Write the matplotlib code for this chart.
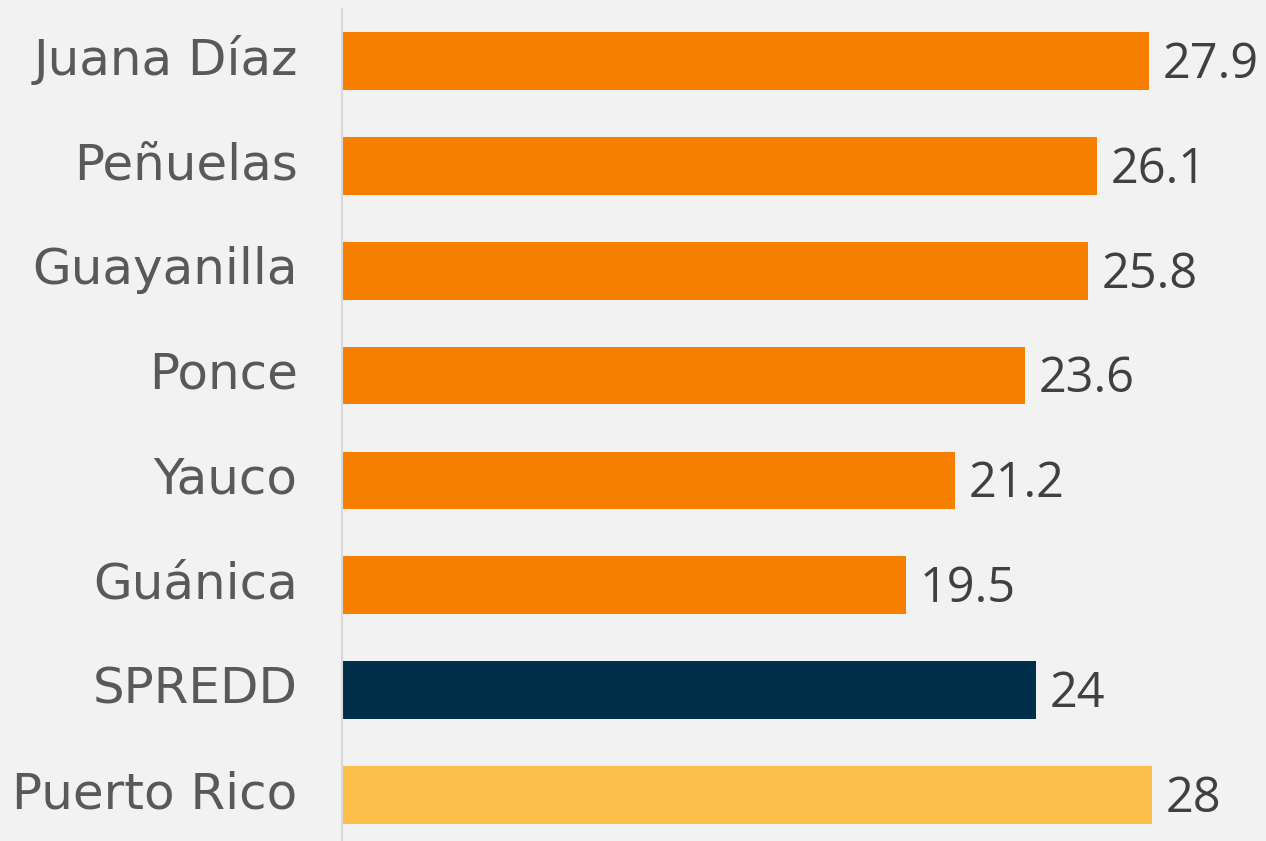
import matplotlib
matplotlib.use("Agg")
import matplotlib.pyplot as plt

categories = ["Juana Díaz", "Peñuelas", "Guayanilla", "Ponce", "Yauco",
              "Guánica", "SPREDD", "Puerto Rico"]
values = [27.9, 26.1, 25.8, 23.6, 21.2, 19.5, 24, 28]
value_labels = ["27.9", "26.1", "25.8", "23.6", "21.2", "19.5", "24", "28"]
colors = ["#f77f00"] * 6 + ["#003049", "#fcbf49"]

BG = "#f2f2f2"
W, H = 1266, 841

fig = plt.figure(figsize=(W / 100, H / 100), dpi=100, facecolor=BG)
ax = fig.add_axes([342 / W, -6.5 / H, (W - 342) / W, 839 / H])
ax.set_facecolor(BG)

ypos = list(range(len(categories)))
ax.barh(ypos, values, height=0.55, color=colors)
ax.set_ylim(len(categories) - 0.5, -0.5)
ax.set_xlim(0, (W - 342) / 28.92)

# value labels right of bars
for y, v, lab in zip(ypos, values, value_labels):
    ax.annotate(lab, (v, y), xytext=(10, -3), textcoords="offset points",
                va="center", ha="left", fontsize=35, color="#404040",
                family="Open Sans")

# category labels drawn by hand so the vertical position can be tuned
for y, cat in zip(ypos, categories):
    ax.annotate(cat, (0, y), xycoords=("axes fraction", "data"),
                xytext=(-32, 0.5), textcoords="offset points",
                va="center", ha="right", fontsize=36, color="#595959",
                family="DejaVu Sans")

ax.set_yticks([])
ax.set_xticks([])
for s in ("top", "right", "bottom"):
    ax.spines[s].set_visible(False)
ax.spines["left"].set_color("#d9d9d9")
ax.spines["left"].set_linewidth(1.5)

fig.savefig("out.png", dpi=100, facecolor=BG)
